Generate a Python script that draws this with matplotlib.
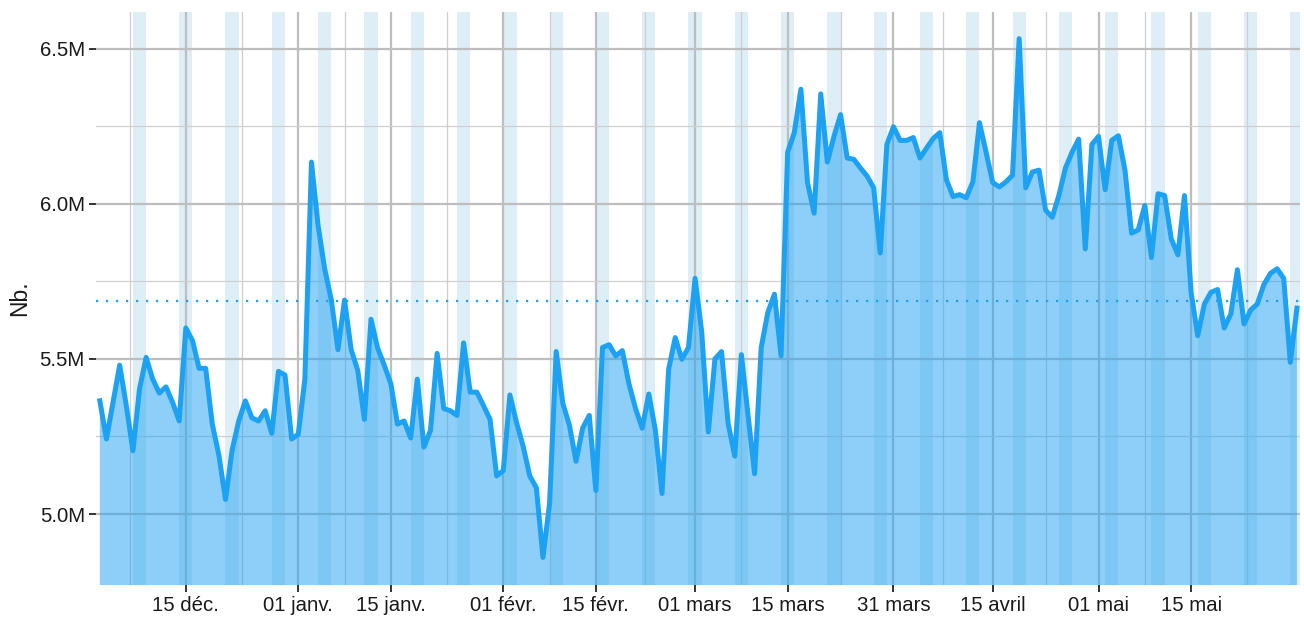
import numpy as np
import pandas as pd
import matplotlib
matplotlib.use('Agg')
import matplotlib.pyplot as plt

plt.rcParams['font.family'] = ['Liberation Sans', 'DejaVu Sans']

# daily values (millions), 2019-12-02 .. 2020-05-31
start_date = '2019-12-02'
values_m = [
    5.365, 5.242, 5.36, 5.48, 5.35, 5.204, 5.403, 5.505, 5.435, 5.39,
    5.41, 5.36, 5.30, 5.60, 5.56, 5.47, 5.47, 5.29, 5.19, 5.047,
    5.206, 5.30, 5.365, 5.31, 5.30, 5.333, 5.26, 5.46, 5.448, 5.242,
    5.257, 5.435, 6.135, 5.93, 5.79, 5.69, 5.53, 5.69, 5.53, 5.463,
    5.305, 5.628, 5.535, 5.48, 5.42, 5.29, 5.30, 5.245, 5.435, 5.216,
    5.27, 5.518, 5.34, 5.333, 5.318, 5.552, 5.393, 5.393, 5.35, 5.305,
    5.123, 5.14, 5.384, 5.295, 5.219, 5.123, 5.085, 4.86, 5.034, 5.524,
    5.357, 5.286, 5.17, 5.277, 5.318, 5.076, 5.537, 5.546, 5.51, 5.527,
    5.42, 5.34, 5.277, 5.387, 5.27, 5.066, 5.467, 5.569, 5.499, 5.537,
    5.76, 5.588, 5.265, 5.5, 5.524, 5.292, 5.187, 5.514, 5.32, 5.13,
    5.537, 5.65, 5.709, 5.51, 6.167, 6.23, 6.37, 6.069, 5.97, 6.355,
    6.135, 6.218, 6.288, 6.148, 6.144, 6.116, 6.09, 6.052, 5.842, 6.192,
    6.249, 6.205, 6.205, 6.214, 6.148, 6.18, 6.211, 6.23, 6.078, 6.024,
    6.03, 6.02, 6.071, 6.262, 6.167, 6.069, 6.055, 6.071, 6.093, 6.533,
    6.052, 6.103, 6.109, 5.98, 5.957, 6.027, 6.116, 6.167, 6.209, 5.855,
    6.192, 6.218, 6.046, 6.205, 6.22, 6.109, 5.906, 5.916, 5.995, 5.827,
    6.033, 6.027, 5.887, 5.836, 6.027, 5.715, 5.575, 5.677, 5.715, 5.724,
    5.60, 5.645, 5.788, 5.613, 5.658, 5.677, 5.74, 5.776, 5.791, 5.76,
    5.489, 5.664,
]
mean_value_m = 5.686

tick_dates = ['2019-12-15', '2020-01-01', '2020-01-15', '2020-02-01', '2020-02-15',
              '2020-03-01', '2020-03-15', '2020-03-31', '2020-04-15', '2020-05-01',
              '2020-05-15']
tick_labels = ['15 déc.', '01 janv.', '15 janv.', '01 févr.', '15 févr.',
               '01 mars', '15 mars', '31 mars', '15 avril', '01 mai', '15 mai']
# outer breaks used only to place the minor grid lines
outer_breaks = ['2019-11-28', '2020-06-01']

y_major = [5.0, 5.5, 6.0, 6.5]
y_minor = [4.75, 5.25, 5.75, 6.25]

LINE = '#1DA1F2'
BAND = '#DDEEF6'

dates = pd.date_range(start_date, periods=len(values_m), freq='D')
vals = np.array(values_m) * 1e6

fig = plt.figure(figsize=(13.04, 6.19), dpi=100)
ax = fig.add_axes([0.0736, 0.0549, 0.9233, 0.9257])

# weekend bands (Saturday -> Monday)
for d in dates:
    if d.dayofweek == 5:
        ax.axvspan(d, d + pd.Timedelta(days=2), color=BAND, lw=0, zorder=0)

# grid
majors = pd.to_datetime(tick_dates)
all_breaks = pd.to_datetime([outer_breaks[0]] + tick_dates + [outer_breaks[1]])
minors = all_breaks[:-1] + (all_breaks[1:] - all_breaks[:-1]) / 2
for m in majors:
    ax.axvline(m, color='#BEBEBE', lw=1.6, zorder=1)
for m in minors:
    ax.axvline(m, color='#CFCFCF', lw=0.9, zorder=1)
for v in y_major:
    ax.axhline(v * 1e6, color='#BEBEBE', lw=1.6, zorder=1)
for v in y_minor:
    ax.axhline(v * 1e6, color='#CFCFCF', lw=0.9, zorder=1)

ax.fill_between(dates, vals, 0, color=LINE, alpha=0.5, lw=0, zorder=2)
ax.plot(dates, vals, color=LINE, lw=3.6, solid_joinstyle='round', zorder=3)
ax.axhline(mean_value_m * 1e6, color=LINE, lw=1.6, dashes=(1, 3.5), zorder=4)

ax.set_xlim(dates[0] - pd.Timedelta(hours=14), dates[-1] + pd.Timedelta(hours=11))
ax.set_ylim(4.771e6, 6.619e6)

ax.set_xticks(majors)
ax.set_xticklabels(tick_labels)
ax.set_yticks([v * 1e6 for v in y_major])
ax.set_yticklabels(['%.1fM' % v for v in y_major])
ax.tick_params(axis='both', length=5, width=1.4, color='#333333', labelsize=14.7,
               labelcolor='#1a1a1a', pad=3)
ax.set_ylabel('Nb.', fontsize=16.5, labelpad=6, color='#1a1a1a')

for s in ax.spines.values():
    s.set_visible(False)
ax.set_facecolor('white')

fig.savefig('out.png', dpi=100)
